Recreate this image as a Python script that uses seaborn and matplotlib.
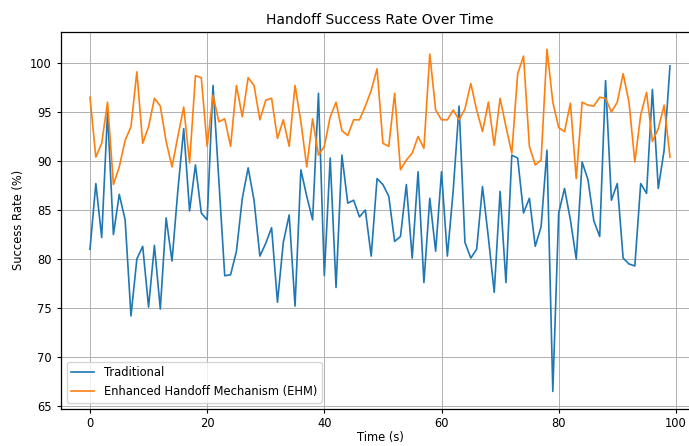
import matplotlib
matplotlib.use("Agg")
import matplotlib.pyplot as plt
import seaborn as sns
import numpy as np
import pandas as pd

time_s = list(range(100))

traditional = [
    81.0, 87.7, 82.2, 95.0, 82.5, 86.6, 84.0, 74.2, 80.0, 81.3,
    75.1, 81.4, 74.9, 84.2, 79.8, 87.0, 93.3, 84.9, 89.6, 84.7,
    84.0, 97.7, 88.0, 78.3, 78.4, 80.8, 86.2, 89.3, 86.0, 80.3,
    81.6, 83.2, 75.6, 81.7, 84.5, 75.2, 89.1, 86.4, 84.0, 96.9,
    78.3, 90.3, 77.1, 90.6, 85.7, 86.0, 84.3, 85.0, 80.3, 88.2,
    87.6, 86.4, 81.8, 82.3, 87.6, 80.1, 88.9, 77.6, 86.2, 80.8,
    88.9, 80.3, 87.0, 95.6, 81.7, 80.1, 81.0, 87.4, 82.2, 76.6,
    86.9, 77.6, 90.6, 90.3, 84.7, 86.2, 81.3, 83.3, 91.1, 66.5,
    84.7, 87.2, 84.0, 80.0, 89.9, 88.1, 83.9, 82.3, 98.2, 86.0,
    87.7, 80.1, 79.5, 79.3, 87.7, 86.7, 97.3, 87.2, 91.1, 99.7,
]

ehm = [
    96.5, 90.4, 91.8, 96.0, 87.6, 89.4, 92.1, 93.5, 99.1, 91.8,
    93.5, 96.4, 95.6, 92.0, 89.4, 92.5, 95.5, 89.8, 98.7, 98.5,
    91.5, 96.7, 94.0, 94.3, 91.5, 97.7, 94.5, 98.5, 97.7, 94.2,
    96.2, 96.4, 92.3, 94.2, 91.5, 97.7, 94.0, 89.4, 94.3, 90.6,
    91.5, 94.5, 96.0, 93.1, 92.6, 94.2, 94.2, 95.6, 97.2, 99.4,
    91.8, 91.5, 96.9, 89.1, 90.1, 90.8, 92.5, 91.3, 100.9, 95.2,
    94.2, 94.2, 95.2, 94.2, 95.3, 97.9, 95.2, 93.0, 96.0, 91.6,
    96.4, 93.5, 90.8, 98.9, 100.7, 91.5, 89.6, 90.1, 101.4, 96.0,
    93.4, 93.0, 95.9, 88.2, 96.0, 95.7, 95.6, 96.5, 96.4, 95.0,
    96.0, 98.9, 96.0, 89.9, 94.7, 97.0, 92.0, 93.3, 95.7, 90.4,
]

s = 0.83
plt.rcParams.update({
    "font.size": 10 * s,
    "axes.linewidth": 0.9,
    "xtick.major.width": 0.8,
    "ytick.major.width": 0.8,
    "xtick.major.size": 3.0,
    "ytick.major.size": 3.0,
    "xtick.major.pad": 3.0,
    "grid.linewidth": 0.7,
})

fig, ax = plt.subplots(figsize=(6.89, 4.46), dpi=100)
fig.subplots_adjust(left=0.0885, right=1.0145, top=0.928, bottom=0.084)

palette = sns.color_palette("tab10")
sns.lineplot(x=time_s, y=traditional, ax=ax, color=palette[0], linewidth=1.2, label="Traditional")
sns.lineplot(x=time_s, y=ehm, ax=ax, color=palette[1], linewidth=1.2, label="Enhanced Handoff Mechanism (EHM)")

ax.set_title("Handoff Success Rate Over Time", fontsize=12 * s)
ax.set_xlabel("Time (s)", fontsize=10 * s, labelpad=0.5)
ax.set_ylabel("Success Rate (%)", fontsize=10 * s)
ax.grid(True)
ax.legend(loc="lower left", fontsize=10 * s)

fig.savefig("out.png", dpi=100)
